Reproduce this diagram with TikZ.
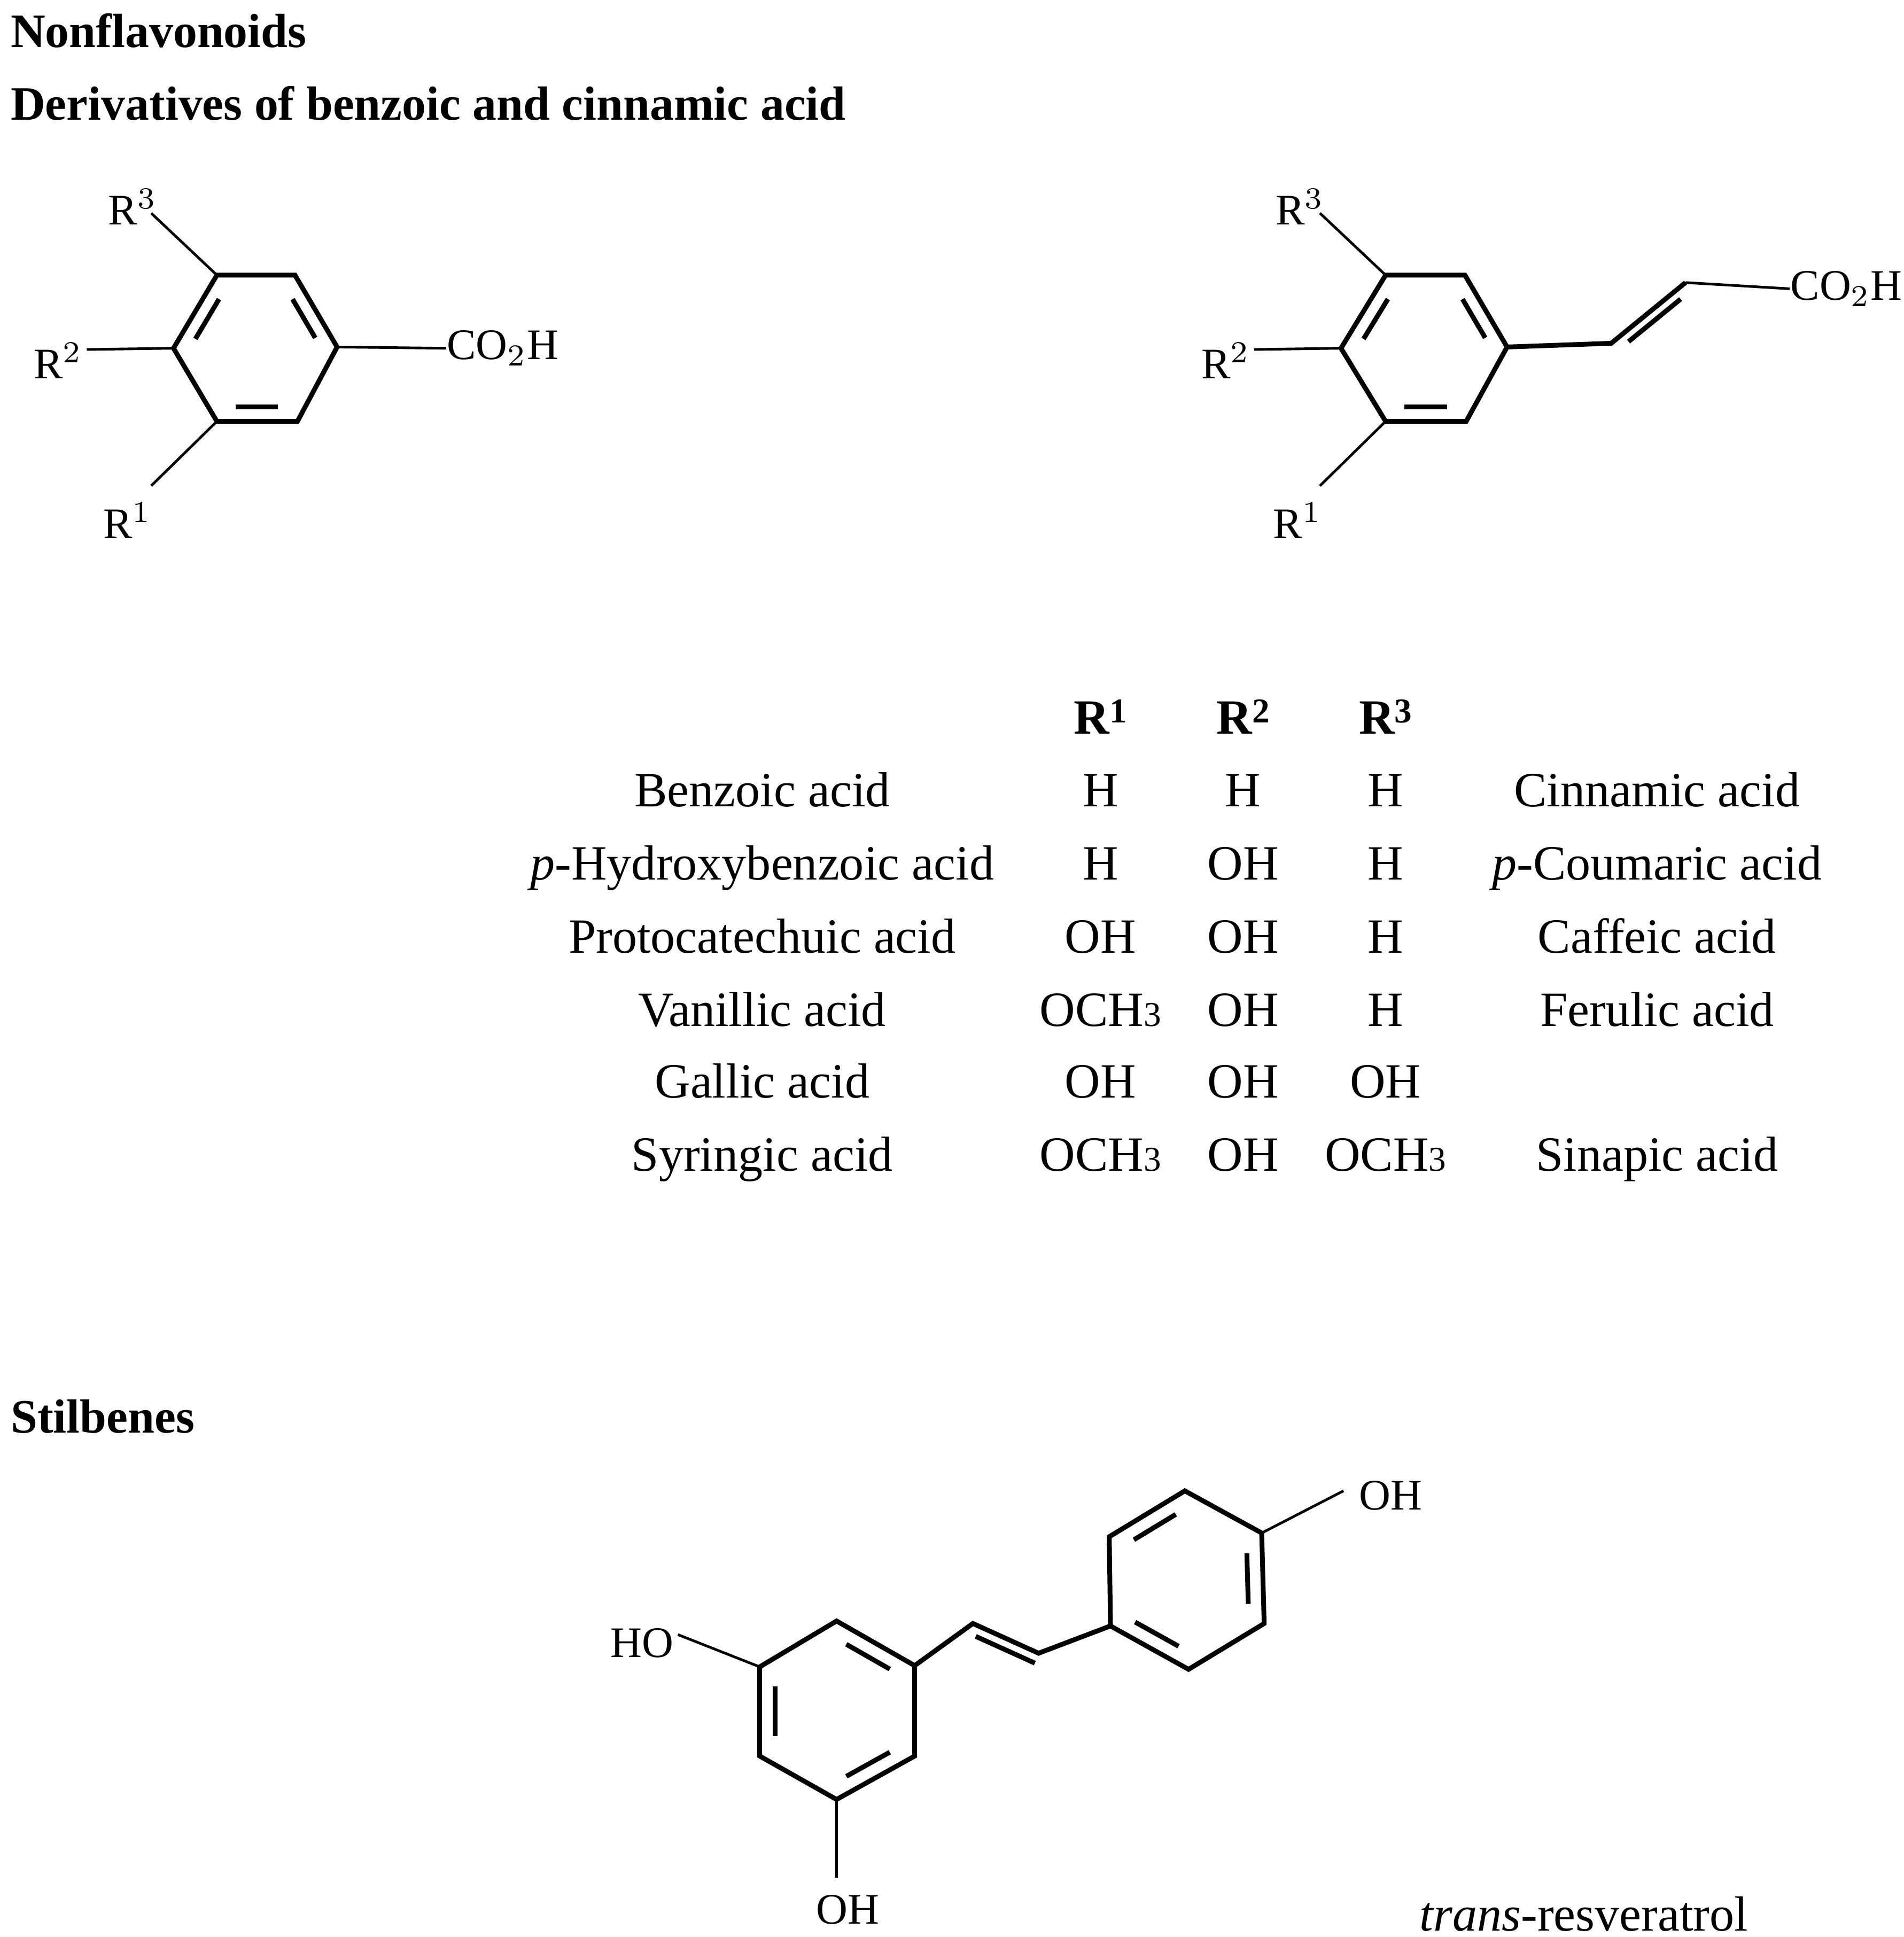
\documentclass[tikz,border=0pt]{standalone}
\usepackage{fontspec}
\setmainfont{Liberation Serif}
\usetikzlibrary{calc}
\begin{document}
\begin{tikzpicture}[x=0.01cm,y=-0.01cm,
  ring/.style={line width=1.1pt,line join=miter},
  sub/.style={line width=0.6pt},
  inner/.style={line width=1.1pt,shorten <=2.5pt,shorten >=2.5pt},
  lab/.style={inner sep=0pt,font=\fontsize{10}{12}\selectfont},
  tab/.style={inner sep=0pt,anchor=base,font=\fontsize{11.3}{14}\selectfont},
  ttl/.style={inner sep=0pt,anchor=base west,font=\fontsize{11}{14}\selectfont\bfseries}]
\useasboundingbox (0,0) rectangle (1536,1563);
\node[ttl] (t1) at (8,38) {Nonflavonoids};
\node[ttl] (t2) at (8,97) {Derivatives of benzoic and cinnamic acid};
\node[ttl] (t3) at (8,1156) {Stilbenes};
% ring 1
\foreach \n/\x/\y in {a/175/222,b/238/222,c/272/280,d/240/340,e/175/340,f/140/281}
  \coordinate (1\n) at (\x,\y);
\coordinate (1m) at (206,281);
\draw[ring] (1a)--(1b)--(1c)--(1d)--(1e)--(1f)--cycle;
\draw[inner] ($(1a)!.2!(1m)$)--($(1f)!.2!(1m)$);
\draw[inner] ($(1b)!.2!(1m)$)--($(1c)!.2!(1m)$);
\draw[inner] ($(1d)!.2!(1m)$)--($(1e)!.2!(1m)$);
\node[lab] (r13) at (107,167) {R$^{3}$};
\node[lab] (r12) at (47,291) {R$^{2}$};
\node[lab] (r11) at (103,420) {R$^{1}$};
\node[lab,anchor=west] (co1) at (360,281) {CO$_2$H};
\draw[sub] (1a)--(122,172);
\draw[sub] (1f)--(70,282);
\draw[sub] (1e)--(122,392);
\draw[sub] (1c)--(co1.west);
% ring 2
\foreach \n/\x/\y in {a/1118/222,b/1182/222,c/1216/280,d/1183/340,e/1118/340,f/1082/281}
  \coordinate (2\n) at (\x,\y);
\coordinate (2m) at (1150,281);
\draw[ring] (2a)--(2b)--(2c)--(2d)--(2e)--(2f)--cycle;
\draw[inner] ($(2a)!.2!(2m)$)--($(2f)!.2!(2m)$);
\draw[inner] ($(2b)!.2!(2m)$)--($(2c)!.2!(2m)$);
\draw[inner] ($(2d)!.2!(2m)$)--($(2e)!.2!(2m)$);
\node[lab] (r23) at (1049,167) {R$^{3}$};
\node[lab] (r22) at (989,291) {R$^{2}$};
\node[lab] (r21) at (1047,420) {R$^{1}$};
\draw[sub] (2a)--(1065,172);
\draw[sub] (2f)--(1012,282);
\draw[sub] (2e)--(1065,392);
\coordinate (v1) at (1300,277); \coordinate (v2) at (1360,228);
\node[lab,anchor=west] (co2) at (1444,233) {CO$_2$H};
\draw[ring] (2c)--(v1)--(v2);
\draw[sub] (v2)--(co2.west);
\draw[line width=1.1pt] ($(v1)!.15!(v2)+(5,6)$)--($(v1)!.85!(v2)+(5,6)$);
% table
\foreach \c/\x in {1/888,2/1003,3/1118}
  \node[tab,font=\fontsize{11.3}{14}\selectfont\bfseries] (h\c) at (\x,592) {R{\fontsize{8}{9}\selectfont\raisebox{2.5pt}{\c}}};
\def\oc{OCH{\fontsize{8}{9}\selectfont 3}}
\foreach \i/\y/\a/\p/\q/\r/\b in {
 1/651/Benzoic acid/H/H/H/Cinnamic acid,
 2/710/\textit{p}-Hydroxybenzoic acid/H/OH/H/\textit{p}-Coumaric acid,
 3/769/Protocatechuic acid/OH/OH/H/Caffeic acid,
 4/828/Vanillic acid/\oc/OH/H/Ferulic acid,
 5/886/Gallic acid/OH/OH/OH/,
 6/945/Syringic acid/\oc/OH/\oc/Sinapic acid}{
 \node[tab] (a\i) at (615,\y) {\a};
 \node[tab] (p\i) at (888,\y) {\p};
 \node[tab] (q\i) at (1003,\y) {\q};
 \node[tab] (s\i) at (1118,\y) {\r};
 \node[tab] (b\i) at (1337,\y) {\b};
}
% resveratrol ring A
\foreach \n/\x/\y in {a/675/1308,b/738/1344,c/738/1417,d/675/1452,e/613/1417,f/613/1345}
  \coordinate (A\n) at (\x,\y);
\coordinate (Am) at (676,1380);
\draw[ring] (Aa)--(Ab)--(Ac)--(Ad)--(Ae)--(Af)--cycle;
\draw[inner] ($(Aa)!.2!(Am)$)--($(Ab)!.2!(Am)$);
\draw[inner] ($(Af)!.2!(Am)$)--($(Ae)!.2!(Am)$);
\draw[inner] ($(Ac)!.2!(Am)$)--($(Ad)!.2!(Am)$);
% ring B
\foreach \n/\x/\y in {a/956/1203,b/1018/1237,c/1020/1310,d/959/1347,e/896/1312,f/895/1240}
  \coordinate (B\n) at (\x,\y);
\coordinate (Bm) at (957,1275);
\draw[ring] (Ba)--(Bb)--(Bc)--(Bd)--(Be)--(Bf)--cycle;
\draw[inner] ($(Ba)!.2!(Bm)$)--($(Bf)!.2!(Bm)$);
\draw[inner] ($(Bb)!.2!(Bm)$)--($(Bc)!.2!(Bm)$);
\draw[inner] ($(Bd)!.2!(Bm)$)--($(Be)!.2!(Bm)$);
\coordinate (w1) at (785,1310); \coordinate (w2) at (838,1334);
\draw[ring] (Ab)--(w1)--(w2)--(Be);
\draw[line width=1.1pt] ($(w1)!.1!(w2)+(-3,8)$)--($(w2)+(-3,8)$);
\node[lab] (ho1) at (518,1326) {HO};
\node[lab] (oh2) at (684,1541) {OH};
\node[lab] (oh3) at (1122,1207) {OH};
\draw[sub] (Af)--(547,1319);
\draw[sub] (Ad)--(675,1515);
\draw[sub] (Bb)--(1084,1203);
\node[tab] (tr) at (1278,1558) {\textit{trans}-resveratrol};
\end{tikzpicture}
\end{document}
